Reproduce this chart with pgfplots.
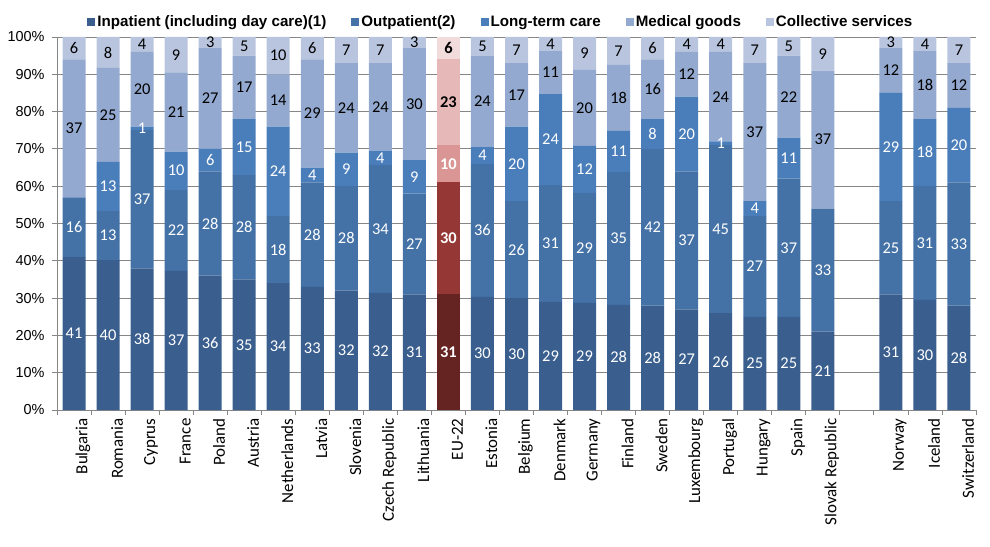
\documentclass[border=0pt]{standalone}
\usepackage{pgfplots}
\pgfplotsset{compat=1.18}
\usepackage{pgfplotstable}
\usepackage{fontspec}
\setmainfont{Carlito}
\newfontfamily\arialfont{Liberation Sans}

\definecolor{inp}{RGB}{58,95,143}
\definecolor{outp}{RGB}{68,114,167}
\definecolor{ltc}{RGB}{74,126,187}
\definecolor{med}{RGB}{147,169,207}
\definecolor{coll}{RGB}{185,197,223}
\definecolor{rinp}{RGB}{101,35,34}
\definecolor{routp}{RGB}{149,55,53}
\definecolor{rltc}{RGB}{217,150,148}
\definecolor{rmed}{RGB}{230,185,184}
\definecolor{rcoll}{RGB}{242,220,219}
\definecolor{gridgray}{RGB}{134,134,134}

\pgfplotstableread{
x a b c d e la lb lc ld le
0 41 16 0 37 6 41 16 {} 37 6
1 40.2 13.2 13.1 25.2 8.3 40 13 13 25 8
2 38 37 1 20 4 38 37 1 20 4
3 37.3 21.7 10.3 21.2 9.5 37 22 10 21 9
4 36 28 6 27 3 36 28 6 27 3
5 35 28 15 17 5 35 28 15 17 5
6 34 18 24 14 10 34 18 24 14 10
7 33 28 4 29 6 33 28 4 29 6
8 32 28 9 24 7 32 28 9 24 7
9 31.4 34.3 3.7 23.6 7.0 32 34 4 24 7
10 31 27 9 30 3 31 27 9 30 3
12 30.3 35.7 4.5 24.4 5.1 30 36 4 24 5
13 30 26 20 17 7 30 26 20 17 7
14 29.0 31.3 24.4 11.5 3.8 29 31 24 11 4
15 28.7 29.5 12.6 20.4 8.8 29 29 12 20 9
16 28.2 35.6 11.0 17.7 7.5 28 35 11 18 7
17 28 42 8 16 6 28 42 8 16 6
18 27 37 20 12 4 27 37 20 12 4
19 26 45 1 24 4 26 45 1 24 4
20 25 27 4 37 7 25 27 4 37 7
21 25 37 11 22 5 25 37 11 22 5
22 21 33 0 37 9 21 33 {} 37 9
24 31 25 29 12 3 31 25 29 12 3
25 29.5 30.6 17.9 18.2 3.8 30 31 18 18 4
26 28 33 20 12 7 28 33 20 12 7
}\datatable

\pgfplotstableread{
x a b c d e la lb lc ld le
11 31 30 10 23 6 31 30 10 23 6
}\eutable

\pgfplotsset{
  base/.style={
    scale only axis, width=919bp, height=373bp,
    at={(0,0)}, anchor=south west,
    xmin=-0.5, xmax=26.5, ymin=0, ymax=100,
    ybar stacked, bar width=23bp,
    point meta=explicit symbolic,
    nodes near coords,
    every node near coord/.append style={anchor=center, font=\fontsize{16.5}{18}\selectfont},
  },
}

\begin{document}
\begin{tikzpicture}
\useasboundingbox (-57bp,-137bp) rectangle (933bp,410bp);
\begin{axis}[base,
  axis x line*=bottom, axis y line*=left,
  axis line style={gridgray},
  ymajorgrids, grid style={gridgray, line width=0.8bp},
  tick align=outside,
  ytick={0,10,...,100},
  yticklabels={0\%,10\%,20\%,30\%,40\%,50\%,60\%,70\%,80\%,90\%,100\%},
  yticklabel style={font=\arialfont\fontsize{14.5}{16}\selectfont, xshift=-4bp},
  major tick length=5bp, minor tick length=5bp,
  tick style={gridgray, line width=0.8bp},
  xtick={0,1,2,3,4,5,6,7,8,9,10,11,12,13,14,15,16,17,18,19,20,21,22,24,25,26},
  xticklabels={Bulgaria,Romania,Cyprus,France,Poland,Austria,Netherlands,Latvia,Slovenia,Czech Republic,Lithuania,EU-22,Estonia,Belgium,Denmark,Germany,Finland,Sweden,Luxembourg,Portugal,Hungary,Spain,Slovak Republic,Norway,Iceland,Switzerland},
  xticklabel style={rotate=90, anchor=east, font=\fontsize{17}{19}\selectfont, yshift=-9bp},
  major x tick style={draw=none},
  minor xtick={-0.5,0.5,...,26.5},
  legend columns=5,
  legend style={at={(0.483,1)}, anchor=center, yshift=15bp, draw=none, fill=none,
    font=\arialfont\bfseries\fontsize{15.2}{17}\selectfont,
    /tikz/every even column/.append style={column sep=23bp},
    nodes={inner xsep=2bp}},
  legend image code/.code={\fill[#1, draw=none] (0bp,-4bp) rectangle (8bp,4bp);},
]
\addplot[fill=inp, draw=none, nodes near coords style={text=white}] table[x=x, y=a, meta=la] {\datatable};
\addplot[fill=outp, draw=none, nodes near coords style={text=white}] table[x=x, y=b, meta=lb] {\datatable};
\addplot[fill=ltc, draw=none, nodes near coords style={text=white}] table[x=x, y=c, meta=lc] {\datatable};
\addplot[fill=med, draw=none, nodes near coords style={text=black}] table[x=x, y=d, meta=ld] {\datatable};
\addplot[fill=coll, draw=none, nodes near coords style={text=black}] table[x=x, y=e, meta=le] {\datatable};
\legend{Inpatient (including day care)(1),Outpatient(2),Long-term care,Medical goods,Collective services}
\end{axis}
\begin{axis}[base, hide axis,
  every node near coord/.append style={font=\bfseries\fontsize{16.5}{18}\selectfont}]
\addplot[fill=rinp, draw=none, nodes near coords style={text=white}] table[x=x, y=a, meta=la] {\eutable};
\addplot[fill=routp, draw=none, nodes near coords style={text=white}] table[x=x, y=b, meta=lb] {\eutable};
\addplot[fill=rltc, draw=none, nodes near coords style={text=white}] table[x=x, y=c, meta=lc] {\eutable};
\addplot[fill=rmed, draw=none, nodes near coords style={text=black}] table[x=x, y=d, meta=ld] {\eutable};
\addplot[fill=rcoll, draw=none, nodes near coords style={text=black}] table[x=x, y=e, meta=le] {\eutable};
\end{axis}
\end{tikzpicture}
\end{document}
